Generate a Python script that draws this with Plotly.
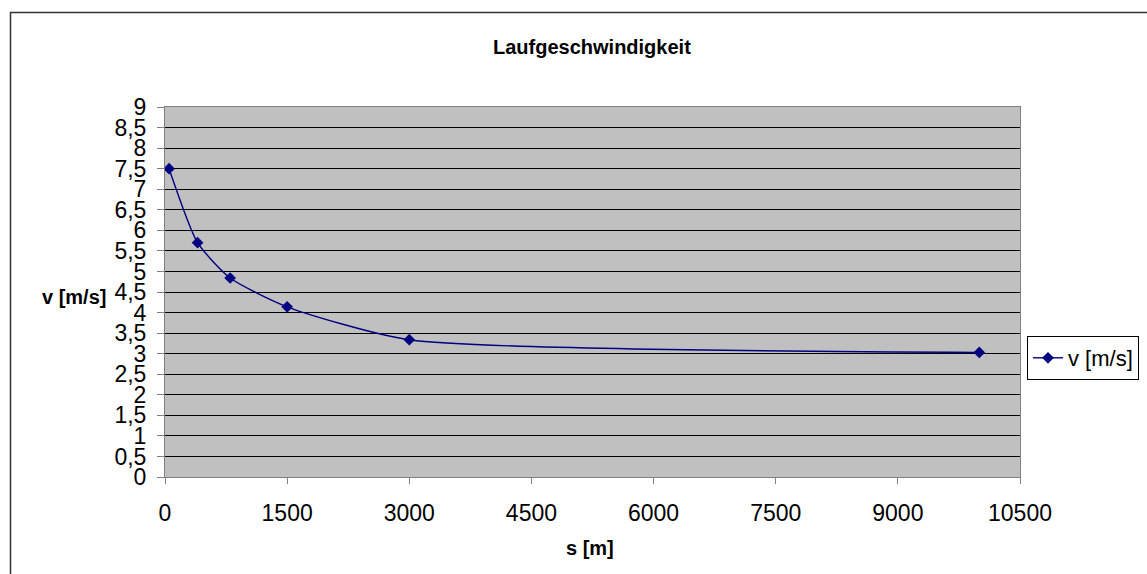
import plotly.graph_objects as go

# Data
distance_m = [50, 400, 800, 1500, 3000, 10000]
speed_ms = [7.5, 5.7, 4.84, 4.14, 3.34, 3.03]

x_tickvals = [0, 1500, 3000, 4500, 6000, 7500, 9000, 10500]
x_ticktext = ["0", "1500", "3000", "4500", "6000", "7500", "9000", "10500"]
y_tickvals = [0, 0.5, 1, 1.5, 2, 2.5, 3, 3.5, 4, 4.5, 5, 5.5, 6, 6.5, 7, 7.5, 8, 8.5, 9]
y_ticktext = ["0", "0,5", "1", "1,5", "2", "2,5", "3", "3,5", "4", "4,5", "5", "5,5",
              "6", "6,5", "7", "7,5", "8", "8,5", "9"]

FONT = "Arial, Liberation Sans, sans-serif"
NAVY = "#000080"

fig = go.Figure()
fig.add_trace(go.Scatter(
    x=distance_m, y=speed_ms, mode="lines+markers", name="v [m/s]",
    line=dict(color=NAVY, width=1.4, shape="spline", smoothing=0.6),
    marker=dict(symbol="diamond", size=9, color=NAVY),
))

# plot area in pixels: x 165..1020, y 107..477
L, R, T, B = 165, 1147 - 1020, 107, 574 - 477
W, H = 1147, 574
pw, ph = W - L - R, H - T - B

def px(xp):
    return (xp - L) / pw

def py(yp):
    return (H - B - yp) / ph

fig.update_layout(
    width=W, height=H,
    margin=dict(l=L, r=R, t=T, b=B, autoexpand=False),
    paper_bgcolor="white",
    plot_bgcolor="#C0C0C0",
    font=dict(family=FONT, size=23, color="black"),
    showlegend=True,
    legend=dict(
        xref="container", yref="container",
        x=1027 / W, y=1 - 358 / H, xanchor="left", yanchor="middle",
        bordercolor="black", borderwidth=1, bgcolor="white",
        font=dict(family=FONT, size=22, color="black"),
        itemwidth=30,
    ),
    xaxis=dict(
        range=[0, 10500], tickvals=x_tickvals, ticktext=x_ticktext,
        showgrid=False, zeroline=False, automargin=False,
        showline=True, linecolor="#808080", linewidth=1, mirror=True,
        ticks="outside", ticklen=6, tickcolor="#808080", tickwidth=1,
        ticklabelstandoff=9,
        tickfont=dict(family=FONT, size=23, color="black"),
    ),
    yaxis=dict(
        range=[0, 9], tickvals=y_tickvals, ticktext=y_ticktext,
        showgrid=True, gridcolor="black", gridwidth=1, zeroline=False,
        automargin=False,
        showline=True, linecolor="#808080", linewidth=1, mirror=True,
        ticks="outside", ticklen=7, tickcolor="#808080", tickwidth=1,
        ticklabelstandoff=6,
        tickfont=dict(family=FONT, size=23, color="black"),
    ),
    annotations=[
        dict(text="<b>Laufgeschwindigkeit</b>", xref="paper", yref="paper",
             x=px(592), y=py(47), xanchor="center", yanchor="middle",
             showarrow=False, font=dict(family=FONT, size=20, color="black")),
        dict(text="<b>v [m/s]</b>", xref="paper", yref="paper",
             x=px(74), y=py(297), xanchor="center", yanchor="middle",
             showarrow=False, font=dict(family=FONT, size=20, color="black")),
        dict(text="<b>s [m]</b>", xref="paper", yref="paper",
             x=px(590), y=py(548), xanchor="center", yanchor="middle",
             showarrow=False, font=dict(family=FONT, size=20, color="black")),
    ],
    shapes=[
        dict(type="rect", xref="paper", yref="paper",
             x0=px(10.5), x1=px(1160), y0=py(590), y1=py(12.5),
             line=dict(color="#333333", width=1.5), fillcolor="rgba(0,0,0,0)",
             layer="below"),
    ],
)

fig.write_html("out.html")
